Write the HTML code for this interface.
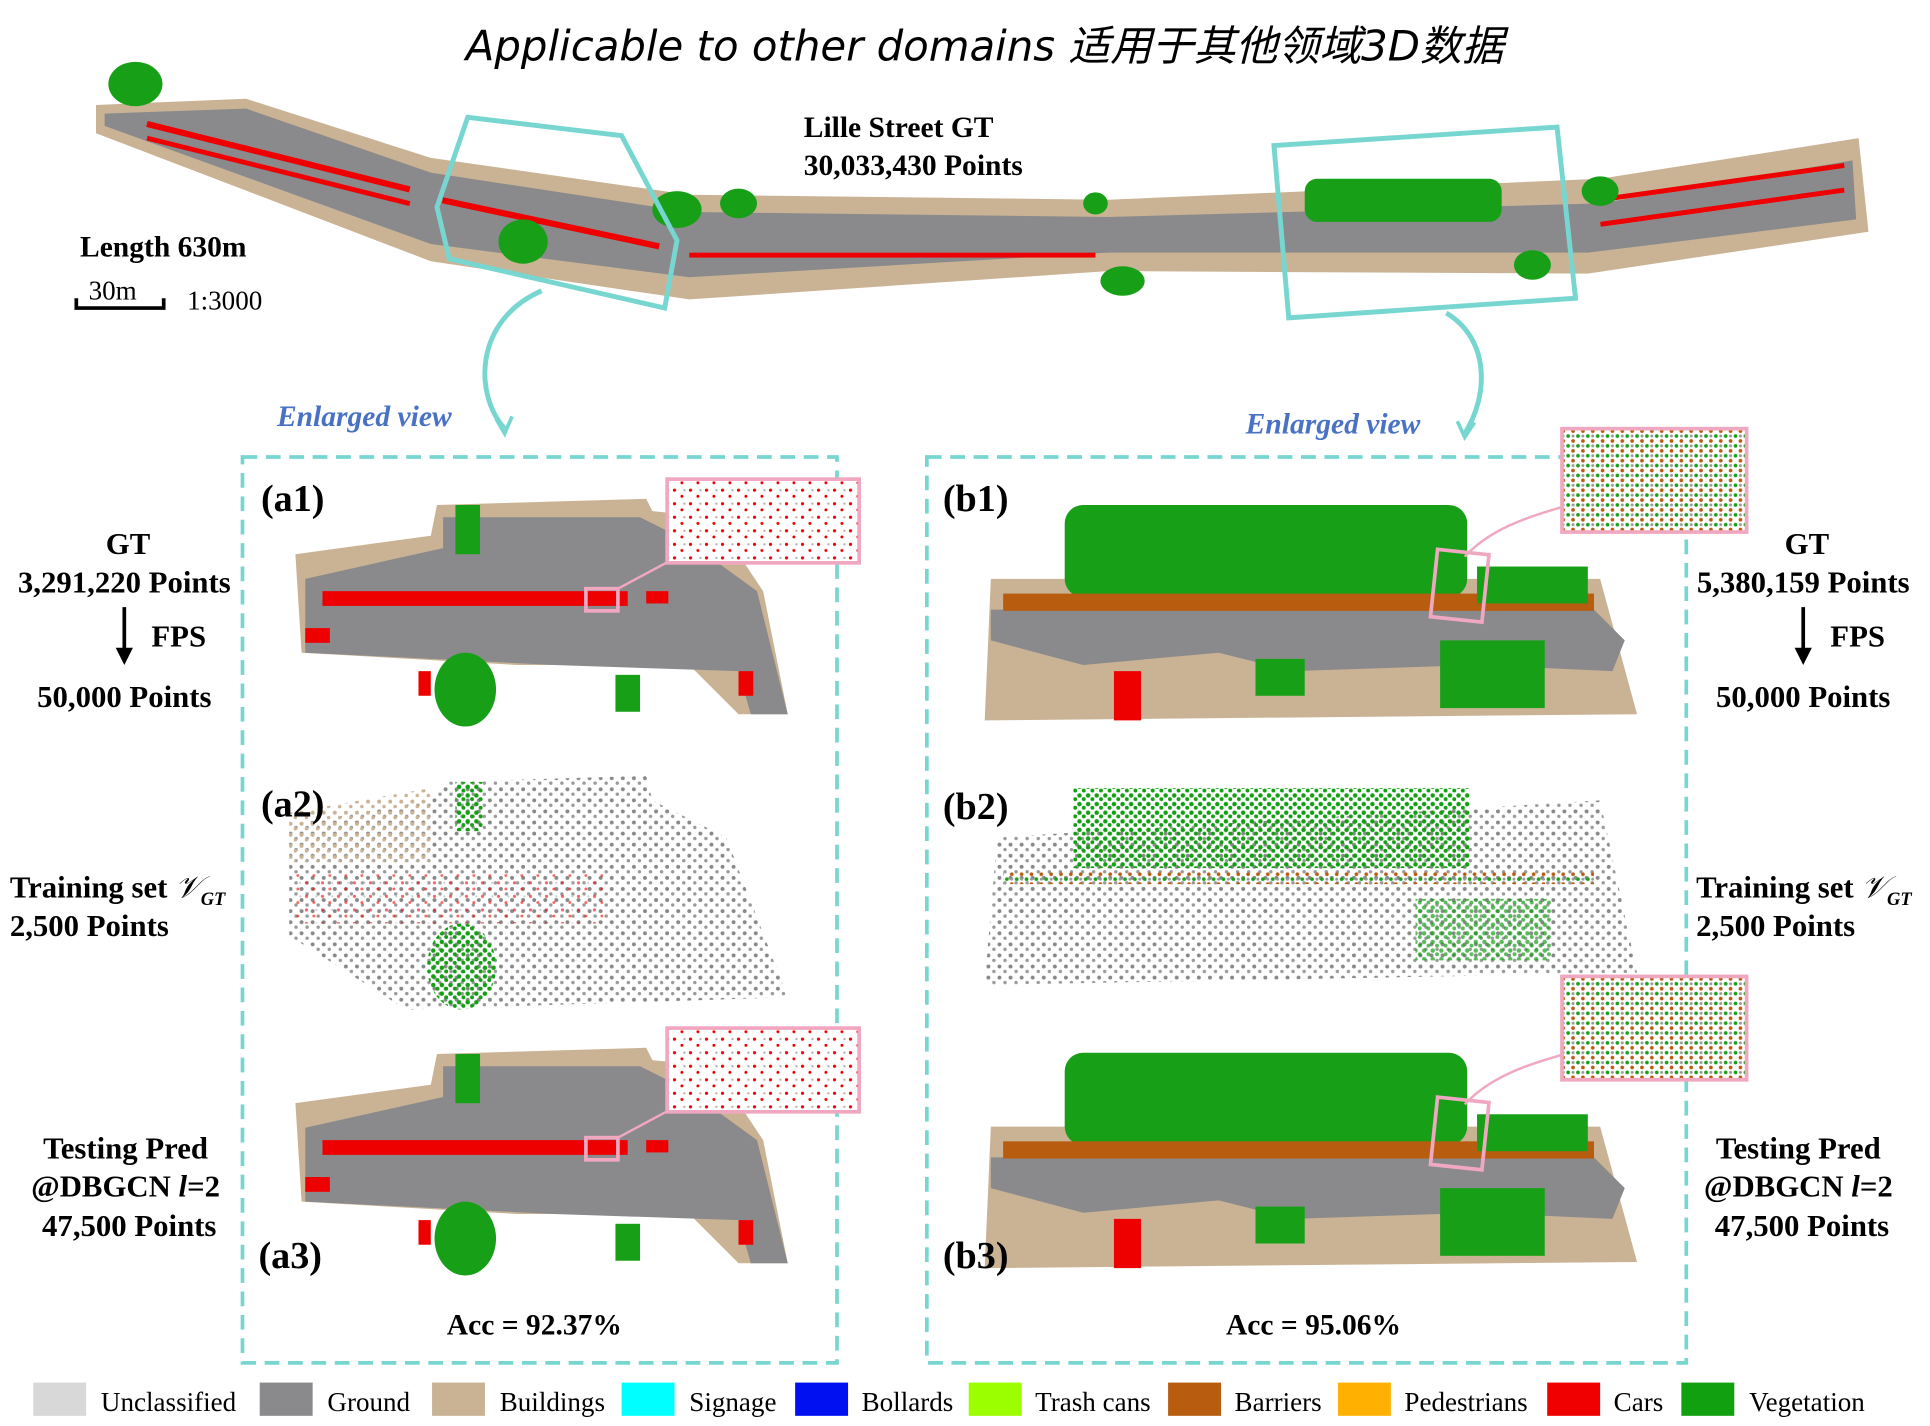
<!DOCTYPE html>
<html><head><meta charset="utf-8">
<style>
html,body{margin:0;padding:0;background:#fff;width:1930px;height:1426px;overflow:hidden}
svg{display:block}
.b{font-family:"Liberation Serif",serif;font-weight:bold;fill:#000}
.r{font-family:"Liberation Serif",serif;fill:#000}
</style></head><body>
<svg width="1930" height="1426" viewBox="0 0 1568 1158" xmlns="http://www.w3.org/2000/svg">
<defs>
<pattern id="gdots" width="9" height="9" patternUnits="userSpaceOnUse"><circle cx="2" cy="2" r="1.6" fill="#888"/><circle cx="6.5" cy="6" r="1.4" fill="#999"/></pattern>
<pattern id="tdots" width="9" height="9" patternUnits="userSpaceOnUse"><circle cx="2" cy="3" r="1.6" fill="#c9b394"/><circle cx="6" cy="7" r="1.4" fill="#c9b394"/></pattern>
<pattern id="vdots" width="7" height="7" patternUnits="userSpaceOnUse"><circle cx="2" cy="2" r="1.8" fill="#10a010"/><circle cx="5.5" cy="5" r="1.6" fill="#10a010"/></pattern>
<pattern id="rdots" width="13" height="11" patternUnits="userSpaceOnUse"><circle cx="2" cy="2" r="1.3" fill="#e00"/><circle cx="8" cy="7" r="1.2" fill="#e00"/><circle cx="10" cy="2" r="0.9" fill="#aaa"/></pattern>
<pattern id="mdots" width="8" height="8" patternUnits="userSpaceOnUse"><circle cx="2" cy="2" r="1.5" fill="#19a019"/><circle cx="6" cy="6" r="1.5" fill="#b85c10"/><circle cx="6" cy="2" r="1.2" fill="#999"/></pattern>
</defs>

<text x="800" y="49" text-anchor="middle" font-family="'DejaVu Sans','Noto Sans CJK SC',sans-serif" font-style="italic" font-size="34">Applicable to other domains 适用于其他领域3D数据</text>

<!-- street -->
<polygon points="78,85 200,80 350,128 560,158 900,162 1300,145 1510,112 1518,188 1290,222 900,220 560,243 350,212 78,108" fill="#c9b394"/>
<polygon points="85,92 200,88 350,140 560,172 900,176 1300,165 1505,130 1508,178 1290,205 900,205 560,225 350,198 85,102" fill="#8a8a8c"/>
<g fill="#e00">
<rect x="120" y="98" width="220" height="5" transform="rotate(14 120 98)"/>
<rect x="120" y="110" width="220" height="4" transform="rotate(14 120 110)"/>
<rect x="360" y="160" width="180" height="5" transform="rotate(12 360 160)"/>
<rect x="560" y="205" width="330" height="4"/>
<rect x="1300" y="180" width="200" height="4" transform="rotate(-8 1300 180)"/>
<rect x="1300" y="160" width="200" height="4" transform="rotate(-8 1300 160)"/>
</g>
<g fill="#17a017">
<ellipse cx="110" cy="68" rx="22" ry="18"/><ellipse cx="425" cy="196" rx="20" ry="18"/>
<ellipse cx="550" cy="170" rx="20" ry="15"/><ellipse cx="600" cy="165" rx="15" ry="12"/>
<rect x="1060" y="145" width="160" height="35" rx="10"/><ellipse cx="1300" cy="155" rx="15" ry="12"/>
<ellipse cx="912" cy="228" rx="18" ry="12"/><ellipse cx="890" cy="165" rx="10" ry="9"/><ellipse cx="1245" cy="215" rx="15" ry="12"/>
</g>
<polygon points="380,95 505,110 550,195 540,250 365,210 355,168" fill="none" stroke="#78d6d0" stroke-width="4"/>
<polygon points="1035,118 1265,103 1280,242 1047,258" fill="none" stroke="#78d6d0" stroke-width="4"/>
<text x="653" y="111" class="b" font-size="24">Lille Street GT</text>
<text x="653" y="142" class="b" font-size="24">30,033,430 Points</text>
<text x="65" y="208" class="b" font-size="24">Length 630m</text>
<text x="72" y="243" class="r" font-size="22">30m</text>
<path d="M62,242 V250 H133 V242" fill="none" stroke="#000" stroke-width="3"/>
<text x="152" y="251" class="r" font-size="22">1:3000</text>
<path d="M440,236 C385,260 385,320 410,348" fill="none" stroke="#78d6d0" stroke-width="4"/>
<path d="M403,340 L410,352 L416,338" fill="none" stroke="#78d6d0" stroke-width="3"/>
<path d="M1175,254 C1210,275 1210,320 1190,352" fill="none" stroke="#78d6d0" stroke-width="4"/>
<path d="M1184,342 L1190,355 L1198,343" fill="none" stroke="#78d6d0" stroke-width="3"/>
<text x="225" y="346" font-family="'Liberation Serif',serif" font-style="italic" font-weight="bold" font-size="24" fill="#4a72c4">Enlarged view</text>
<text x="1012" y="352" font-family="'Liberation Serif',serif" font-style="italic" font-weight="bold" font-size="24" fill="#4a72c4">Enlarged view</text>

<rect x="197" y="371" width="483" height="736" fill="none" stroke="#78d6d0" stroke-width="3" stroke-dasharray="12,7"/>
<rect x="753" y="371" width="617" height="736" fill="none" stroke="#78d6d0" stroke-width="3" stroke-dasharray="12,7"/>

<!-- a1 / a3 -->
<g id="a1">
<polygon points="240,450 350,435 355,410 525,405 530,415 580,420 620,480 640,580 600,580 560,540 420,540 245,530" fill="#c9b394"/>
<polygon points="248,470 360,445 360,420 520,420 560,440 615,480 640,580 610,580 600,545 450,540 248,530" fill="#8a8a8c"/>
<g fill="#e00"><rect x="262" y="480" width="248" height="12"/><rect x="248" y="510" width="20" height="12"/><rect x="525" y="480" width="18" height="10"/><rect x="340" y="545" width="10" height="20"/><rect x="600" y="545" width="12" height="20"/></g>
<g fill="#17a017"><ellipse cx="378" cy="560" rx="25" ry="30"/><rect x="370" y="410" width="20" height="40"/><rect x="500" y="548" width="20" height="30"/></g>
<rect x="476" y="478" width="26" height="18" fill="none" stroke="#f0a8c0" stroke-width="3"/>
<path d="M502,478 L545,455" stroke="#f0a8c0" stroke-width="2"/>
<rect x="542" y="389" width="156" height="68" fill="#fff"/>
<rect x="542" y="389" width="156" height="68" fill="url(#rdots)" stroke="#f0a8c0" stroke-width="3"/>
</g>
<use href="#a1" transform="translate(0,446)"/>
<!-- a2 -->
<polygon points="235,670 350,650 360,635 525,630 530,650 590,680 640,810 330,820 235,760" fill="url(#gdots)"/>
<polygon points="235,660 350,640 350,700 235,700" fill="url(#tdots)"/>
<rect x="240" y="710" width="250" height="40" fill="url(#rdots)" opacity=".6"/>
<ellipse cx="375" cy="785" rx="28" ry="35" fill="url(#vdots)"/>
<rect x="370" y="635" width="22" height="40" fill="url(#vdots)"/>

<!-- b1 / b3 -->
<g id="b1">
<polygon points="805,470 1300,470 1330,580 800,585" fill="#c9b394"/>
<polygon points="805,495 1295,495 1320,520 1310,545 1200,540 1050,545 990,530 880,540 805,520" fill="#8a8a8c"/>
<rect x="865" y="410" width="327" height="75" rx="15" fill="#17a017"/>
<rect x="815" y="482" width="480" height="14" fill="#b85c10"/>
<rect x="905" y="545" width="22" height="40" fill="#e00"/>
<g fill="#17a017"><rect x="1170" y="520" width="85" height="55"/><rect x="1200" y="460" width="90" height="30"/><rect x="1020" y="535" width="40" height="30"/></g>
<rect x="1165" y="448" width="42" height="55" fill="none" stroke="#f0a8c0" stroke-width="3" transform="rotate(6 1185 475)"/>
<path d="M1190,452 C1210,430 1240,420 1268,412" fill="none" stroke="#f0a8c0" stroke-width="2"/>
<rect x="1269" y="348" width="150" height="84" fill="#fff"/>
<rect x="1269" y="348" width="150" height="84" fill="url(#mdots)" stroke="#f0a8c0" stroke-width="3"/>
</g>
<use href="#b1" transform="translate(0,445)"/>
<!-- b2 -->
<polygon points="810,680 1300,650 1330,790 800,800" fill="url(#gdots)"/>
<rect x="872" y="640" width="322" height="65" fill="url(#vdots)"/>
<rect x="815" y="708" width="480" height="10" fill="url(#mdots)"/>
<rect x="1150" y="730" width="110" height="50" fill="url(#vdots)" opacity=".7"/>

<g class="b" font-size="31">
<text x="212" y="415">(a1)</text><text x="212" y="663">(a2)</text><text x="210" y="1030">(a3)</text>
<text x="766" y="415">(b1)</text><text x="766" y="665">(b2)</text><text x="766" y="1030">(b3)</text>
</g>
<text x="363" y="1084" class="b" font-size="24">Acc = 92.37%</text>
<text x="996" y="1084" class="b" font-size="24">Acc = 95.06%</text>

<g class="b" font-size="25" text-anchor="middle">
<text x="104" y="450">GT</text><text x="101" y="481">3,291,220 Points</text>
<text x="101" y="574">50,000 Points</text>
<text x="102" y="941">Testing Pred</text><text x="102" y="972">@DBGCN <tspan font-style="italic">l</tspan>=2</text><text x="105" y="1004">47,500 Points</text>
<text x="1468" y="450">GT</text><text x="1465" y="481">5,380,159 Points</text>
<text x="1465" y="574">50,000 Points</text>
<text x="1461" y="941">Testing Pred</text><text x="1461" y="972">@DBGCN <tspan font-style="italic">l</tspan>=2</text><text x="1464" y="1004">47,500 Points</text>
</g>
<g class="b" font-size="25">
<text x="123" y="525">FPS</text><text x="1487" y="525">FPS</text>
<text x="8" y="729">Training set <tspan font-style="italic" font-weight="normal">𝒱</tspan><tspan font-size="15" font-style="italic" dy="6">GT</tspan></text>
<text x="8" y="760">2,500 Points</text>
<text x="1378" y="729">Training set <tspan font-style="italic" font-weight="normal">𝒱</tspan><tspan font-size="15" font-style="italic" dy="6">GT</tspan></text>
<text x="1378" y="760">2,500 Points</text>
</g>
<path d="M101,493 V530" stroke="#000" stroke-width="3"/><path d="M94,526 L101,540 L108,526 Z" fill="#000"/>
<path d="M1465,493 V530" stroke="#000" stroke-width="3"/><path d="M1458,526 L1465,540 L1472,526 Z" fill="#000"/>

<!-- legend -->
<g class="r" font-size="22">
<rect x="27" y="1123" width="43" height="27" fill="#d8d8d8"/><text x="82" y="1146">Unclassified</text>
<rect x="211" y="1123" width="43" height="27" fill="#8a8a8c"/><text x="266" y="1146">Ground</text>
<rect x="351" y="1123" width="43" height="27" fill="#c9b394"/><text x="406" y="1146">Buildings</text>
<rect x="505" y="1123" width="43" height="27" fill="#00ffff"/><text x="560" y="1146">Signage</text>
<rect x="646" y="1123" width="43" height="27" fill="#0010f0"/><text x="700" y="1146">Bollards</text>
<rect x="787" y="1123" width="43" height="27" fill="#9cff00"/><text x="841" y="1146">Trash cans</text>
<rect x="949" y="1123" width="43" height="27" fill="#b85c10"/><text x="1003" y="1146">Barriers</text>
<rect x="1087" y="1123" width="43" height="27" fill="#ffb000"/><text x="1141" y="1146">Pedestrians</text>
<rect x="1257" y="1123" width="43" height="27" fill="#f00000"/><text x="1311" y="1146">Cars</text>
<rect x="1366" y="1123" width="43" height="27" fill="#10a010"/><text x="1421" y="1146">Vegetation</text>
</g>
</svg>
</body></html>
